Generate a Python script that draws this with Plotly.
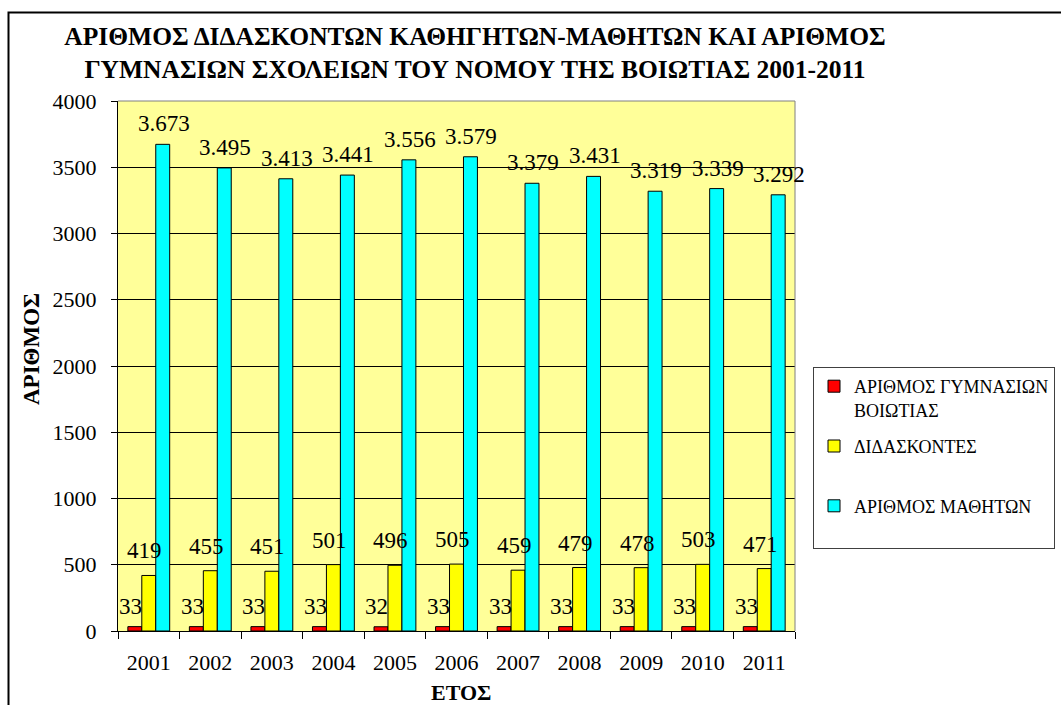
import plotly.graph_objects as go

years = ["2001", "2002", "2003", "2004", "2005", "2006", "2007", "2008", "2009", "2010", "2011"]
schools = [33, 33, 33, 33, 32, 33, 33, 33, 33, 33, 33]
teachers = [419, 455, 451, 501, 496, 505, 459, 479, 478, 503, 471]
students = [3673, 3495, 3413, 3441, 3556, 3579, 3379, 3431, 3319, 3339, 3292]

names = ["ΑΡΙΘΜΟΣ ΓΥΜΝΑΣΙΩΝ<br>ΒΟΙΩΤΙΑΣ", "ΔΙΔΑΣΚΟΝΤΕΣ<br>\u00a0", "ΑΡΙΘΜΟΣ ΜΑΘΗΤΩΝ<br>\u00a0"]
colors = ["#FF0000", "#FFFF00", "#00FFFF"]
series = [schools, teachers, students]

FONT = "Liberation Serif"


def fmt(v):
    return f"{v:,}".replace(",", ".")


W, H = 1061, 705
L, R, T, B = 118, 795, 101, 631
pw, ph = R - L, B - T
BARGAP = 0.32
BW = pw / len(years) * (1 - BARGAP) / 3


def px(x):
    return (x - L) / pw


def py(y):
    return (B - y) / ph


fig = go.Figure()
for i, (nm, col, vals) in enumerate(zip(names, colors, series)):
    fig.add_trace(go.Bar(
        x=years, y=vals, name=nm,
        marker=dict(color=col, line=dict(color="black", width=1)),
        legendgroup=f"g{i}", hoverinfo="skip",
    ))

label_dx = [-4, -4, 1]
label_dy = [6, 10, 6]
annotations = []
for i, vals in enumerate(series):
    for j, v in enumerate(vals):
        annotations.append(dict(
            x=j, y=v, xref="x", yref="y", text=fmt(v), showarrow=False,
            xanchor="center", yanchor="bottom",
            xshift=(i - 1) * BW + label_dx[i], yshift=label_dy[i],
            font=dict(family=FONT, size=23, color="black"),
        ))

annotations.append(dict(
    text="ΑΡΙΘΜΟΣ", xref="paper", yref="paper", x=px(31), y=py(349),
    textangle=-90, showarrow=False, xanchor="center", yanchor="middle",
    font=dict(family=FONT, size=23, color="black", weight="bold")))
annotations.append(dict(
    text="ΕΤΟΣ", xref="paper", yref="paper", x=px(461), y=py(692),
    showarrow=False, xanchor="center", yanchor="middle",
    font=dict(family=FONT, size=22, color="black", weight="bold")))

fig.update_layout(
    width=W, height=H,
    margin=dict(l=L, r=W - R, t=T, b=H - B, pad=0, autoexpand=False),
    paper_bgcolor="white", plot_bgcolor="#FFFF99",
    barmode="group", bargap=BARGAP, bargroupgap=0,
    font=dict(family=FONT, color="black"),
    title=dict(
        text="ΑΡΙΘΜΟΣ ΔΙΔΑΣΚΟΝΤΩΝ ΚΑΘΗΓΗΤΩΝ-ΜΑΘΗΤΩΝ ΚΑΙ ΑΡΙΘΜΟΣ<br>ΓΥΜΝΑΣΙΩΝ ΣΧΟΛΕΙΩΝ ΤΟΥ ΝΟΜΟΥ ΤΗΣ ΒΟΙΩΤΙΑΣ 2001-2011",
        font=dict(family=FONT, size=25.5, color="black", weight="bold"),
        x=475 / W, xanchor="center", y=1 - 45 / H, yanchor="middle",
    ),
    legend=dict(
        x=px(813), y=py(367), xanchor="left", yanchor="top",
        bordercolor="#404040", borderwidth=1, bgcolor="white",
        font=dict(family=FONT, size=18, color="black"),
        traceorder="grouped", tracegroupgap=10, valign="top",
    ),
    xaxis=dict(
        type="category", range=[-0.5, len(years) - 0.5],
        showline=True, linecolor="black", linewidth=1,
        ticks="outside", ticklen=7, tickcolor="black", tickson="boundaries",
        tickfont=dict(family=FONT, size=22, color="black"),
        ticklabelstandoff=12, tickangle=0,
    ),
    yaxis=dict(
        range=[0, 4000], dtick=500, tickformat="d",
        showline=True, linecolor="black", linewidth=1,
        ticks="outside", ticklen=6, tickcolor="black",
        showgrid=True, gridcolor="black", gridwidth=1,
        tickfont=dict(family=FONT, size=22, color="black"),
        ticklabelstandoff=10,
        zeroline=False,
    ),
    shapes=[
        dict(type="rect", xref="paper", yref="paper",
             x0=px(8.5), x1=px(1070), y0=py(712), y1=py(12.5),
             line=dict(color="black", width=2), fillcolor="rgba(0,0,0,0)", layer="below"),
        dict(type="line", xref="paper", yref="paper", x0=0, x1=1, y0=1, y1=1,
             line=dict(color="#808080", width=1)),
        dict(type="line", xref="paper", yref="paper", x0=1, x1=1, y0=0, y1=1,
             line=dict(color="#808080", width=1)),
    ],
    annotations=annotations,
)

fig.write_html(
    "out.html",
    config={"displayModeBar": False},
    post_script="document.body.style.margin='0';document.body.style.padding='0';document.body.style.overflow='hidden';",
)
